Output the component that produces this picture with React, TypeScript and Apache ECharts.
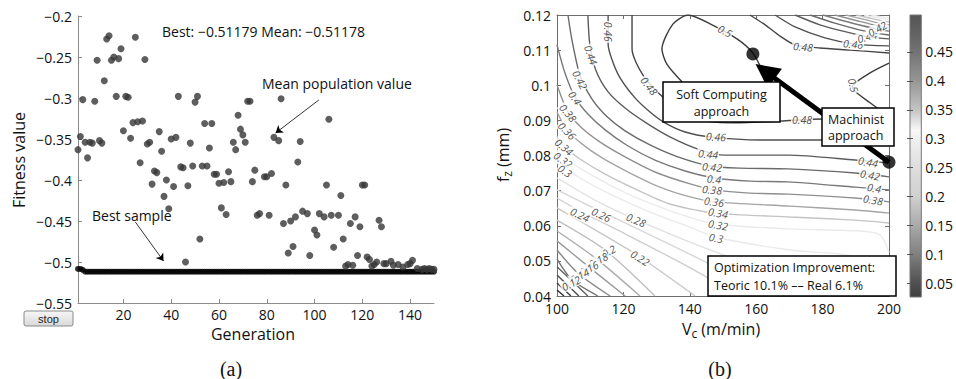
import React, { useEffect, useRef } from 'react';
import * as echarts from 'echarts';

const FONT = '"Open Sans", "Noto Sans", sans-serif';
const SERIF = '"Liberation Serif", "Times New Roman", serif';

// ---------- panel (a): GA fitness ----------
const genTicks = [20, 40, 60, 80, 100, 120, 140];

const bestValues = [
  -0.5085, -0.5085, -0.5095, -0.5118, -0.5118, -0.5118, -0.5118, -0.5118, -0.5118, -0.5118,
  -0.5118, -0.5118, -0.5118, -0.5118, -0.5118, -0.5118, -0.5118, -0.5118, -0.5118, -0.5118,
  -0.5118, -0.5118, -0.5118, -0.5118, -0.5118, -0.5118, -0.5118, -0.5118, -0.5118, -0.5118,
  -0.5118, -0.5118, -0.5118, -0.5118, -0.5118, -0.5118, -0.5118, -0.5118, -0.5118, -0.5118,
  -0.5118, -0.5118, -0.5118, -0.5118, -0.5118, -0.5118, -0.5118, -0.5118, -0.5118, -0.5118,
  -0.5118, -0.5118, -0.5118, -0.5118, -0.5118, -0.5118, -0.5118, -0.5118, -0.5118, -0.5118,
  -0.5118, -0.5118, -0.5118, -0.5118, -0.5118, -0.5118, -0.5118, -0.5118, -0.5118, -0.5118,
  -0.5118, -0.5118, -0.5118, -0.5118, -0.5118, -0.5118, -0.5118, -0.5118, -0.5118, -0.5118,
  -0.5118, -0.5118, -0.5118, -0.5118, -0.5118, -0.5118, -0.5118, -0.5118, -0.5118, -0.5118,
  -0.5118, -0.5118, -0.5118, -0.5118, -0.5118, -0.5118, -0.5118, -0.5118, -0.5118, -0.5118,
  -0.5118, -0.5118, -0.5118, -0.5118, -0.5118, -0.5118, -0.5118, -0.5118, -0.5118, -0.5118,
  -0.5118, -0.5118, -0.5118, -0.5118, -0.5118, -0.5118, -0.5118, -0.5118, -0.5118, -0.5118,
  -0.5118, -0.5118, -0.5118, -0.5118, -0.5118, -0.5118, -0.5118, -0.5118, -0.5118, -0.5118,
  -0.5118, -0.5118, -0.5118, -0.5118, -0.5118, -0.5118, -0.5118, -0.5118, -0.5118, -0.5118,
  -0.5118, -0.5118, -0.5118, -0.5118, -0.5118, -0.5118, -0.5118, -0.5118, -0.5118, -0.5118,
];

const meanPoints = [
  [1, -0.363], [2, -0.347], [3, -0.302], [4, -0.354], [5, -0.373], [6, -0.354], [7, -0.355], [8, -0.304], [9, -0.254], [10, -0.352],
  [11, -0.355], [12, -0.279], [13, -0.228], [14, -0.224], [15, -0.254], [16, -0.25], [17, -0.298], [18, -0.252], [19, -0.24], [20, -0.34],
  [21, -0.298], [22, -0.299], [23, -0.349], [24, -0.33], [25, -0.226], [26, -0.329], [27, -0.379], [28, -0.328], [29, -0.253], [30, -0.356],
  [31, -0.354], [32, -0.405], [33, -0.389], [34, -0.391], [35, -0.341], [36, -0.365], [37, -0.42], [38, -0.4], [39, -0.435], [40, -0.35],
  [41, -0.408], [42, -0.348], [43, -0.298], [44, -0.384], [45, -0.385], [46, -0.5], [47, -0.407], [48, -0.355], [49, -0.383], [50, -0.305],
  [51, -0.298], [52, -0.472], [53, -0.383], [54, -0.331], [55, -0.383], [56, -0.361], [57, -0.331], [58, -0.393], [59, -0.393], [60, -0.404],
  [61, -0.434], [62, -0.403], [63, -0.442], [64, -0.39], [65, -0.402], [66, -0.354], [67, -0.363], [68, -0.321], [69, -0.338], [70, -0.345],
  [71, -0.354], [72, -0.304], [73, -0.304], [74, -0.402], [75, -0.388], [76, -0.443], [77, -0.441], [79, -0.396], [80, -0.396], [81, -0.443],
  [82, -0.392], [83, -0.348], [85, -0.352], [86, -0.301], [87, -0.453], [88, -0.406], [89, -0.489], [90, -0.45], [91, -0.481], [92, -0.445],
  [93, -0.378], [94, -0.353], [95, -0.438], [97, -0.441], [98, -0.492], [100, -0.461], [101, -0.467], [102, -0.441], [104, -0.445], [105, -0.406],
  [106, -0.326], [107, -0.443], [108, -0.482], [110, -0.443], [111, -0.419], [112, -0.472], [113, -0.505], [114, -0.503], [115, -0.453], [116, -0.504],
  [117, -0.445], [118, -0.492], [119, -0.457], [120, -0.406], [121, -0.406], [122, -0.494], [123, -0.497], [124, -0.505], [125, -0.503], [126, -0.5],
  [127, -0.449], [128, -0.457], [129, -0.502], [130, -0.502], [132, -0.499], [133, -0.504], [135, -0.503], [137, -0.506], [139, -0.503], [140, -0.502],
  [141, -0.498], [143, -0.508], [145, -0.509], [146, -0.508], [147, -0.509], [148, -0.508], [149, -0.509], [150, -0.509],
];

const meanArrow = [[101.8, -0.3024], [83.7, -0.3427]];
const bestArrow = [[25, -0.4512], [36.8, -0.4988]];

// ---------- panel (b): contour map ----------
const vcTicksMin = 100;
const vcTicksMax = 200;
const fzMin = 0.04;
const fzMax = 0.12;

const contourSegments = [
  { level: 0.5, pts: [[137.7, 0.1009], [133.1, 0.106], [131.6, 0.1103], [134.9, 0.1174], [139.5, 0.12], [146.7, 0.1172], [154.2, 0.1132], [158.7, 0.1095], [161.7, 0.1043], [162.7, 0.1001], [155.1, 0.0958], [143.1, 0.0964], [137.7, 0.1009]] },
  { level: 0.5, pts: [[200, 0.1063], [194.3, 0.1035], [188.9, 0.0995], [194.3, 0.095], [200, 0.0912]] },
  { level: 0.48, pts: [[122.6, 0.12], [122.6, 0.1103], [125.9, 0.1029], [132.5, 0.0961], [140.1, 0.0907], [152.1, 0.0893], [167.2, 0.0898], [180.1, 0.0904], [191.3, 0.0898], [200, 0.0884]] },
  { level: 0.48, pts: [[158.1, 0.12], [162.7, 0.1172], [167.2, 0.114], [171.7, 0.1115], [179.2, 0.1106], [188.3, 0.11], [200, 0.1092]] },
  { level: 0.46, pts: [[115.4, 0.12], [115.4, 0.1117], [116.6, 0.1072], [119, 0.1021], [123.5, 0.0964], [128, 0.0924], [132.5, 0.0893], [138.6, 0.0867], [146.1, 0.0853], [161.1, 0.0844], [179.2, 0.0844], [200, 0.0847]] },
  { level: 0.46, pts: [[165.7, 0.12], [171.7, 0.1166], [180.7, 0.1135], [189.8, 0.1117], [200, 0.1112]] },
  { level: 0.44, pts: [[109.3, 0.12], [109.9, 0.1115], [111.7, 0.1043], [115.4, 0.0981], [120.5, 0.0935], [126.5, 0.0895], [134, 0.0853], [143.1, 0.0816], [150.6, 0.0801], [169.6, 0.0801], [189.8, 0.0787], [200, 0.0779]] },
  { level: 0.44, pts: [[171.7, 0.12], [179.2, 0.1172], [188.3, 0.1149], [194.3, 0.1137], [200, 0.1132]] },
  { level: 0.42, pts: [[103.3, 0.12], [104.5, 0.1129], [106.9, 0.1029], [110.5, 0.0961], [115.1, 0.091], [120.5, 0.087], [128, 0.083], [136.4, 0.0796], [146.1, 0.077], [155.1, 0.0764], [169.6, 0.0762], [189.8, 0.075], [200, 0.0739]] },
  { level: 0.42, pts: [[176.2, 0.12], [183.7, 0.1177], [192.8, 0.1154], [200, 0.1143]] },
  { level: 0.4, pts: [[100, 0.1115], [102.4, 0.1035], [105.4, 0.0967], [109.3, 0.0918], [114.5, 0.0873], [121.4, 0.0827], [129.5, 0.0787], [138.6, 0.0756], [147.6, 0.0736], [158.1, 0.0727], [169.6, 0.0725], [189.8, 0.071], [200, 0.0702]] },
  { level: 0.4, pts: [[180.1, 0.12], [187.7, 0.118], [194.9, 0.1163], [200, 0.1154]] },
  { level: 0.38, pts: [[100, 0.1001], [103.3, 0.0924], [107.5, 0.0878], [113, 0.0838], [120.5, 0.0796], [129.5, 0.0753], [140.1, 0.0719], [147.6, 0.0702], [158.1, 0.0693], [169.6, 0.069], [189.8, 0.0679], [200, 0.0668]] },
  { level: 0.38, pts: [[183.7, 0.12], [190.7, 0.1183], [196.7, 0.1169], [200, 0.1163]] },
  { level: 0.36, pts: [[100, 0.0924], [103, 0.0873], [107.5, 0.0833], [113.6, 0.0793], [121.4, 0.0753], [131, 0.071], [140.1, 0.0682], [147.6, 0.0668], [170.2, 0.0656], [189.8, 0.0645], [200, 0.0636]] },
  { level: 0.36, pts: [[187, 0.12], [193.1, 0.1186], [198.2, 0.1174], [200, 0.1172]] },
  { level: 0.34, pts: [[100, 0.0856], [102.4, 0.0824], [106.9, 0.079], [114.5, 0.0747], [123.5, 0.0705], [134, 0.0662], [147.6, 0.0636], [170.2, 0.0625], [189.8, 0.0616], [200, 0.0608]] },
  { level: 0.34, pts: [[190.1, 0.12], [195.2, 0.1189], [200, 0.118]] },
  { level: 0.32, pts: [[100, 0.081], [106.9, 0.0764], [116, 0.0716], [125, 0.0676], [137, 0.0633], [147.6, 0.0605], [170.2, 0.0591], [191.3, 0.0585], [197.3, 0.0574], [200, 0.0525]] },
  { level: 0.32, pts: [[192.5, 0.12], [197.3, 0.1191], [200, 0.1186]] },
  { level: 0.3, pts: [[100, 0.0779], [106.9, 0.0736], [116, 0.069], [128, 0.0639], [140.1, 0.0596], [147.6, 0.0568], [170.2, 0.0531], [187.3, 0.0517], [195.8, 0.0491], [200, 0.0446]] },
  { level: 0.3, pts: [[194.6, 0.12], [200, 0.1191]] },
  { level: 0.28, pts: [[100, 0.0736], [113, 0.0665], [123.5, 0.0619], [143.1, 0.0542], [164.2, 0.0468], [182.2, 0.04]] },
  { level: 0.26, pts: [[100, 0.0702], [113, 0.0642], [128, 0.0574], [146.1, 0.0491], [165.7, 0.04]] },
  { level: 0.24, pts: [[100, 0.0679], [106.9, 0.0642], [120.5, 0.0577], [138.6, 0.0488], [155.1, 0.04]] },
  { level: 0.22, pts: [[100, 0.0651], [113, 0.058], [125, 0.0511], [141.6, 0.04]] },
  { level: 0.2, pts: [[100, 0.0616], [114.5, 0.0531], [129.5, 0.04]] },
  { level: 0.18, pts: [[100, 0.0585], [112, 0.0505], [125, 0.04]] },
  { level: 0.16, pts: [[100, 0.0557], [109.3, 0.0485], [120.5, 0.04]] },
  { level: 0.14, pts: [[100, 0.0531], [106.3, 0.0465], [116, 0.04]] },
  { level: 0.12, pts: [[100, 0.0505], [104.5, 0.0446], [112.3, 0.04]] },
  { level: 0.1, pts: [[100, 0.0483], [109.3, 0.04]] },
  { level: 0.08, pts: [[100, 0.046], [106.6, 0.04]] },
  { level: 0.06, pts: [[100, 0.0437], [104.2, 0.04]] },
  { level: 0.04, pts: [[100, 0.0417], [102.1, 0.04]] },
];

// [level, Vc, fz, rotation]
const contourLabels = [
  [0.46, 115.4, 0.1152, -90], [0.44, 110.2, 0.1086, -70], [0.42, 106.9, 0.1015, -62], [0.4, 105.4, 0.0964, -55],
  [0.38, 103.3, 0.0921, -50], [0.36, 103.0, 0.087, -45], [0.34, 102.1, 0.0824, -40], [0.32, 101.8, 0.0787, -35],
  [0.3, 102.4, 0.0756, -35], [0.48, 127.7, 0.0998, -52], [0.5, 150.6, 0.1154, -28], [0.48, 174.1, 0.1109, -5],
  [0.46, 189.2, 0.1117, -5], [0.44, 193.4, 0.1138, 15], [0.42, 196.5, 0.116, 30], [0.5, 189.2, 0.1, -75],
  [0.48, 173.8, 0.0901, 0], [0.46, 147.9, 0.0853, -3], [0.44, 145.5, 0.0804, -5], [0.42, 146.7, 0.0767, -5],
  [0.4, 147.3, 0.0733, -5], [0.38, 146.7, 0.0702, -5], [0.36, 147.3, 0.0668, -8], [0.34, 148.5, 0.0636, -10],
  [0.32, 148.5, 0.0602, -10], [0.3, 147.9, 0.0565, -10], [0.44, 193.7, 0.0781, -10], [0.42, 194.3, 0.0744, -10],
  [0.4, 195.5, 0.0707, -10], [0.38, 195.2, 0.0673, -10], [0.24, 106.9, 0.0631, -25], [0.26, 113.3, 0.0631, -25],
  [0.28, 123.8, 0.0616, -22], [0.22, 125, 0.0508, -32], [0.2, 115.6, 0.0527, 28], [0.18, 112.5, 0.0502, 28],
  [0.16, 109.6, 0.0478, 28], [0.14, 106.8, 0.0457, 28], [0.12, 104.3, 0.0436, 28],
];

const softComputingPoint = [159, 0.1089];
const machinistPoint = [200, 0.0781];
const arrowHeadCenter = [162.7, 0.104];

// colour bar (gray map)
const cbStops = [0.026, 0.05, 0.1, 0.15, 0.2, 0.25, 0.3, 0.315, 0.35, 0.4, 0.45, 0.5, 0.514];
const cbGray = [64, 80, 128, 170, 208, 222, 240, 248, 196, 150, 115, 90, 85];
const cbTicks = [0.05, 0.1, 0.15, 0.2, 0.25, 0.3, 0.35, 0.4, 0.45];

function grayAt(v: number): number {
  if (v <= cbStops[0]) return cbGray[0];
  for (let i = 1; i < cbStops.length; i++) {
    if (v <= cbStops[i]) {
      const t = (v - cbStops[i - 1]) / (cbStops[i] - cbStops[i - 1]);
      return cbGray[i - 1] + t * (cbGray[i] - cbGray[i - 1]);
    }
  }
  return cbGray[cbGray.length - 1];
}
function rgb(g: number) {
  const c = Math.max(0, Math.min(255, Math.round(g)));
  return `rgb(${c},${c},${c})`;
}
function lineColor(level: number) {
  return rgb(255 * Math.pow(grayAt(level) / 255, 1.4));
}

const minus = (v: number) => String(+v.toFixed(3)).replace('-', '\u2212');

export default function App() {
  const ref = useRef<HTMLDivElement>(null);
  useEffect(() => {
    if (!ref.current) return;
    const chart = echarts.init(ref.current, undefined, { renderer: 'svg' });
    const axisGray = '#8c8c8c';
    const frameGray = '#6e6e6e';
    const tickLabel = { color: '#111', fontSize: 14, fontFamily: FONT };

    const cbMin = cbStops[0];
    const cbMax = cbStops[cbStops.length - 1];
    const gradStops = cbStops
      .map((v, i) => ({ offset: (cbMax - v) / (cbMax - cbMin), color: rgb(cbGray[i]) }))
      .sort((a, b) => a.offset - b.offset);

    const contourSeries = contourSegments.map((seg) => ({
      type: 'line',
      xAxisIndex: 1,
      yAxisIndex: 1,
      data: seg.pts,
      showSymbol: false,
      symbol: 'none',
      smooth: 0.25,
      silent: true,
      z: 2,
      lineStyle: { color: lineColor(seg.level), width: 1.4 },
    }));

    const option: any = {
      animation: false,
      textStyle: { fontFamily: FONT },
      grid: [
        { left: 78, top: 16, width: 356, height: 287 },
        { left: 557, top: 15, width: 332, height: 281 },
        { left: 910, top: 15, width: 14, height: 282 },
      ],
      xAxis: [
        {
          gridIndex: 0, type: 'value', min: 1, max: 150,
          axisLine: { onZero: false, lineStyle: { color: axisGray } },
          axisTick: { inside: true, length: 4, customValues: genTicks, lineStyle: { color: axisGray } },
          axisLabel: { ...tickLabel, margin: 4, customValues: genTicks },
          splitLine: { show: false },
        },
        {
          gridIndex: 1, type: 'value', min: vcTicksMin, max: vcTicksMax, interval: 20,
          axisLine: { onZero: false, lineStyle: { color: frameGray } },
          axisTick: { inside: true, length: 4, lineStyle: { color: frameGray } },
          axisLabel: { ...tickLabel, margin: 5 },
          splitLine: { show: false },
        },
        {
          gridIndex: 1, type: 'value', position: 'top', min: vcTicksMin, max: vcTicksMax, interval: 20,
          axisLine: { onZero: false, lineStyle: { color: frameGray } },
          axisTick: { inside: true, length: 4, lineStyle: { color: frameGray } },
          axisLabel: { show: false },
          splitLine: { show: false },
        },
        { gridIndex: 2, type: 'value', min: 0, max: 1, show: false },
      ],
      yAxis: [
        {
          gridIndex: 0, type: 'value', min: -0.55, max: -0.2, interval: 0.05,
          axisLine: { show: true, onZero: false, lineStyle: { color: axisGray } },
          axisTick: { show: true, inside: true, length: 4, lineStyle: { color: axisGray } },
          axisLabel: { ...tickLabel, margin: 6, formatter: (v: number) => minus(v) },
          splitLine: { show: false },
        },
        {
          gridIndex: 1, type: 'value', min: fzMin, max: fzMax, interval: 0.01,
          axisLine: { show: true, onZero: false, lineStyle: { color: frameGray } },
          axisTick: { show: true, inside: true, length: 4, lineStyle: { color: frameGray } },
          axisLabel: { ...tickLabel, margin: 6, formatter: (v: number) => String(+v.toFixed(3)) },
          splitLine: { show: false },
        },
        {
          gridIndex: 1, type: 'value', position: 'right', min: fzMin, max: fzMax, interval: 0.01,
          axisLine: { show: true, onZero: false, lineStyle: { color: frameGray } },
          axisTick: { show: true, inside: true, length: 4, lineStyle: { color: frameGray } },
          axisLabel: { show: false },
          splitLine: { show: false },
        },
        {
          gridIndex: 2, type: 'value', position: 'right', min: cbMin, max: cbMax, z: 5,
          axisLine: { show: false },
          axisTick: { show: true, inside: true, length: 3, customValues: cbTicks, lineStyle: { color: '#555' } },
          axisLabel: { ...tickLabel, margin: 4, customValues: cbTicks, formatter: (v: number) => String(+v.toFixed(3)) },
          splitLine: { show: false },
        },
        {
          gridIndex: 2, type: 'value', position: 'left', min: cbMin, max: cbMax, z: 5,
          axisLine: { show: false },
          axisTick: { show: true, inside: true, length: 3, customValues: cbTicks, lineStyle: { color: '#555' } },
          axisLabel: { show: false },
          splitLine: { show: false },
        },
      ],
      series: [
        {
          type: 'scatter', xAxisIndex: 0, yAxisIndex: 0, silent: true, z: 3,
          symbolSize: 6, itemStyle: { color: '#000' },
          data: bestValues.map((v, i) => [i + 1, v]),
        },
        {
          type: 'scatter', xAxisIndex: 0, yAxisIndex: 0, silent: true, z: 4,
          symbolSize: 7, itemStyle: { color: '#363636' },
          data: meanPoints,
        },
        {
          type: 'lines', coordinateSystem: 'cartesian2d', xAxisIndex: 0, yAxisIndex: 0, silent: true, z: 5,
          symbol: ['none', 'arrow'], symbolSize: 7,
          lineStyle: { color: '#000', width: 0.8, opacity: 1 },
          data: [{ coords: meanArrow }, { coords: bestArrow }],
        },
        ...contourSeries,
        {
          type: 'scatter', xAxisIndex: 1, yAxisIndex: 1, silent: true, z: 3,
          symbolSize: 1, itemStyle: { color: 'rgba(255,255,255,0)' },
          label: {
            show: true, position: 'inside', formatter: '{b}', color: '#222', fontSize: 10.5,
            fontStyle: 'italic', fontFamily: FONT, backgroundColor: '#fff', padding: [0, 1],
          },
          data: contourLabels.map((l) => ({ name: String(l[0]), value: [l[1], l[2]], label: { rotate: l[3] } })),
        },
        {
          type: 'lines', coordinateSystem: 'cartesian2d', xAxisIndex: 1, yAxisIndex: 1, silent: true, z: 6,
          symbol: ['none', 'triangle'], symbolSize: 24,
          lineStyle: { color: '#000', width: 5, opacity: 1 },
          itemStyle: { color: '#000' },
          data: [{ coords: [machinistPoint, arrowHeadCenter] }],
        },
        {
          type: 'scatter', xAxisIndex: 1, yAxisIndex: 1, silent: true, z: 7, clip: false,
          symbolSize: 13, itemStyle: { color: '#000' },
          data: [softComputingPoint, machinistPoint],
        },
        {
          type: 'custom', xAxisIndex: 3, yAxisIndex: 3, silent: true, z: 1,
          data: [[cbMin, cbMax]],
          renderItem: (_p: any, api: any) => {
            const a = api.coord([0, api.value(1)]);
            const b = api.coord([1, api.value(0)]);
            return {
              type: 'rect',
              shape: { x: a[0], y: a[1], width: b[0] - a[0], height: b[1] - a[1] },
              style: { fill: new echarts.graphic.LinearGradient(0, 0, 0, 1, gradStops), stroke: '#777', lineWidth: 1 },
            };
          },
        },
      ],
      graphic: [
        { type: 'text', x: 162, y: 31, z: 50, style: { text: 'Best: \u22120.51179 Mean: \u22120.51178', fontSize: 14, fontFamily: FONT, fill: '#111', verticalAlign: 'middle' } },
        { type: 'text', x: 262, y: 83, z: 50, style: { text: 'Mean population value', fontSize: 14, fontFamily: FONT, fill: '#111', verticalAlign: 'middle' } },
        { type: 'text', x: 92, y: 215, z: 50, style: { text: 'Best sample', fontSize: 14, fontFamily: FONT, fill: '#111', verticalAlign: 'middle' } },
        { type: 'text', x: 19, y: 160, rotation: Math.PI / 2, z: 50, style: { text: 'Fitness value', fontSize: 16, fontFamily: FONT, fill: '#111', align: 'center', verticalAlign: 'middle' } },
        { type: 'text', x: 253, y: 334, z: 50, style: { text: 'Generation', fontSize: 16, fontFamily: FONT, fill: '#111', align: 'center', verticalAlign: 'middle' } },
        { type: 'text', x: 231, y: 369, z: 50, style: { text: '(a)', fontSize: 20, fontFamily: SERIF, fill: '#111', align: 'center', verticalAlign: 'middle' } },
        { type: 'text', x: 720, y: 369, z: 50, style: { text: '(b)', fontSize: 20, fontFamily: SERIF, fill: '#111', align: 'center', verticalAlign: 'middle' } },
        {
          type: 'group', z: 50,
          children: [
            {
              type: 'rect', shape: { x: 24, y: 311, width: 49, height: 15, r: 2 },
              style: { fill: new echarts.graphic.LinearGradient(0, 0, 0, 1, [{ offset: 0, color: '#f7f7f7' }, { offset: 1, color: '#d9d9d9' }]), stroke: '#8a8a8a', lineWidth: 1 },
            },
            { type: 'text', x: 48.5, y: 318.5, style: { text: 'stop', fontSize: 11, fontFamily: '"Liberation Sans", Arial, sans-serif', fill: '#222', align: 'center', verticalAlign: 'middle' } },
          ],
        },
        {
          type: 'text', x: 503, y: 155, rotation: Math.PI / 2, z: 50,
          style: {
            text: '{n|f}{s|z}{n| (mm)}', align: 'center', verticalAlign: 'middle',
            rich: {
              n: { fontSize: 16, fontFamily: FONT, fill: '#111', lineHeight: 20 },
              s: { fontSize: 12, fontFamily: FONT, fill: '#111', lineHeight: 12, verticalAlign: 'bottom' },
            },
          },
        },
        {
          type: 'text', x: 721, y: 329, z: 50,
          style: {
            text: '{n|V}{s|c}{n| (m/min)}', align: 'center', verticalAlign: 'middle',
            rich: {
              n: { fontSize: 16, fontFamily: FONT, fill: '#111', lineHeight: 20 },
              s: { fontSize: 12, fontFamily: FONT, fill: '#111', lineHeight: 12, verticalAlign: 'bottom' },
            },
          },
        },
        { type: 'rect', z: 100, shape: { x: 663, y: 82, width: 117, height: 40 }, style: { fill: '#fff', stroke: '#000', lineWidth: 1.5 } },
        { type: 'text', z: 101, x: 721.5, y: 103, style: { text: 'Soft Computing\napproach', fontSize: 12.5, fontFamily: FONT, fill: '#111', align: 'center', verticalAlign: 'middle', lineHeight: 17 } },
        { type: 'rect', z: 100, shape: { x: 822, y: 108, width: 72, height: 38 }, style: { fill: '#fff', stroke: '#000', lineWidth: 1.5 } },
        { type: 'text', z: 101, x: 828, y: 127, style: { text: 'Machinist\napproach', fontSize: 12.5, fontFamily: FONT, fill: '#111', align: 'left', verticalAlign: 'middle', lineHeight: 16 } },
        { type: 'rect', z: 100, shape: { x: 708, y: 256, width: 188, height: 40 }, style: { fill: '#fff', stroke: '#000', lineWidth: 1.5 } },
        { type: 'text', z: 101, x: 714, y: 276, style: { text: 'Optimization Improvement:\nTeoric 10.1% \u2013\u2013 Real 6.1%', fontSize: 12.5, fontFamily: FONT, fill: '#111', align: 'left', verticalAlign: 'middle', lineHeight: 18 } },
      ],
    };
    chart.setOption(option);
    return () => chart.dispose();
  }, []);
  return <div ref={ref} style={{ position: 'absolute', left: 0, top: 0, width: 956, height: 379, background: '#fff' }} />;
}
